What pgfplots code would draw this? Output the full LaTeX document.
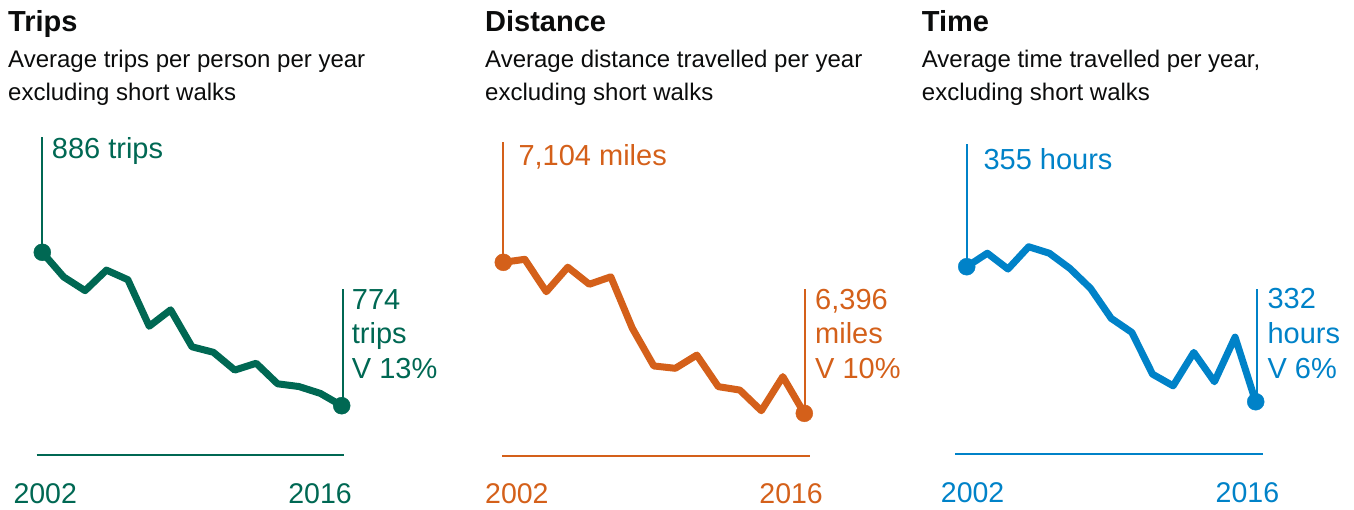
\documentclass[border=0pt]{standalone}
\usepackage{fontspec}
\setmainfont{Liberation Sans}
\usepackage{pgfplots}
\pgfplotsset{compat=1.18}
\definecolor{cgreen}{HTML}{006853}
\definecolor{corange}{HTML}{D4601A}
\definecolor{cblue}{HTML}{0082C8}
\definecolor{ctext}{HTML}{0B0C0C}
\newcommand{\bigf}{\fontsize{29}{34}\selectfont}
\newcommand{\yearf}{\fontsize{28.5}{34}\selectfont}
\newcommand{\subf}{\fontsize{24}{33}\selectfont}
\pgfplotsset{
  panel/.style={scale only axis, axis lines=none, xtick=\empty, ytick=\empty,
    clip=false, xmin=2002, xmax=2016, anchor=south west},
  serie/.style={line width=7pt, line join=round, line cap=round, mark=none},
  ends/.style={only marks, mark=*, mark size=8.5pt},
}
\begin{document}
\begin{tikzpicture}
\useasboundingbox (0,0) rectangle (1354pt,-509pt);
\tikzset{lbl/.style={anchor=base west, inner sep=0pt}}
% ---------------- Titles ----------------
\node[lbl, text=ctext, font=\bigf\bfseries] at (8pt,-31pt) {Trips};
\node[lbl, text=ctext, font=\subf] at (8pt,-67.5pt) {Average trips per person per year};
\node[lbl, text=ctext, font=\subf] at (8pt,-100pt) {excluding short walks};
\node[lbl, text=ctext, font=\bigf\bfseries] at (485pt,-31pt) {Distance};
\node[lbl, text=ctext, font=\subf] at (485pt,-67.5pt) {Average distance travelled per year};
\node[lbl, text=ctext, font=\subf] at (485pt,-100pt) {excluding short walks};
\node[lbl, text=ctext, font=\bigf\bfseries] at (921.7pt,-31pt) {Time};
\node[lbl, text=ctext, font=\subf] at (921.7pt,-67.5pt) {Average time travelled per year,};
\node[lbl, text=ctext, font=\subf] at (921.7pt,-100pt) {excluding short walks};

% ---------------- Trips ----------------
\begin{axis}[panel, at={(42.3pt,-405.7pt)}, width=299.4pt, height=153.4pt, ymin=774, ymax=886]
\addplot[serie, cgreen] coordinates {
(2002,886) (2003,868) (2004,858) (2005,873) (2006,866) (2007,832) (2008,844)
(2009,817) (2010,813) (2011,800) (2012,805) (2013,790) (2014,788) (2015,783) (2016,774)};
\addplot[ends, cgreen] coordinates {(2002,886) (2016,774)};
\draw[cgreen, line width=2pt] (axis cs:2002,886) -- ++(0pt,115.3pt);
\draw[cgreen, line width=2pt] (axis cs:2016,774) ++(1pt,0pt) -- ++(0pt,116.4pt);
\end{axis}
\draw[cgreen, line width=2.2pt] (36.7pt,-455pt) -- (344pt,-455pt);
\node[lbl, text=cgreen, font=\bigf] at (51.7pt,-158pt) {886 trips};
\node[lbl, text=cgreen, font=\bigf] at (351.7pt,-309pt) {774};
\node[lbl, text=cgreen, font=\bigf] at (351.7pt,-343pt) {trips};
\node[lbl, text=cgreen, font=\bigf] at (351.7pt,-378pt) {V 13\%};
\node[lbl, text=cgreen, font=\yearf] at (13.3pt,-503pt) {2002};
\node[anchor=base east, inner sep=0pt, text=cgreen, font=\yearf] at (352pt,-503pt) {2016};

% ---------------- Distance ----------------
\begin{axis}[panel, at={(503.3pt,-413.3pt)}, width=301pt, height=151pt, ymin=6396, ymax=7104]
\addplot[serie, corange] coordinates {
(2002,7104) (2003,7118) (2004,6966) (2005,7081) (2006,7001) (2007,7036) (2008,6795)
(2009,6618) (2010,6607) (2011,6669) (2012,6521) (2013,6505) (2014,6408) (2015,6568) (2016,6396)};
\addplot[ends, corange] coordinates {(2002,7104) (2016,6396)};
\draw[corange, line width=2pt] (axis cs:2002,7104) -- ++(0pt,120.6pt);
\draw[corange, line width=2pt] (axis cs:2016,6396) ++(0.7pt,0pt) -- ++(0pt,124pt);
\end{axis}
\draw[corange, line width=2.2pt] (502.3pt,-456pt) -- (810pt,-456pt);
\node[lbl, text=corange, font=\bigf] at (518.3pt,-165.7pt) {7,104 miles};
\node[lbl, text=corange, font=\bigf] at (815pt,-309pt) {6,396};
\node[lbl, text=corange, font=\bigf] at (815pt,-343pt) {miles};
\node[lbl, text=corange, font=\bigf] at (815pt,-378pt) {V 10\%};
\node[lbl, text=corange, font=\yearf] at (485pt,-503pt) {2002};
\node[anchor=base east, inner sep=0pt, text=corange, font=\yearf] at (823pt,-503pt) {2016};

% ---------------- Time ----------------
\begin{axis}[panel, at={(966.7pt,-401.7pt)}, width=289pt, height=135pt, ymin=332, ymax=355]
\addplot[serie, cblue] coordinates {
(2002,355) (2003,357.3) (2004,354.6) (2005,358.4) (2006,357.3) (2007,354.7) (2008,351.3)
(2009,346.2) (2010,343.8) (2011,336.7) (2012,334.7) (2013,340.4) (2014,335.4) (2015,343) (2016,332)};
\addplot[ends, cblue] coordinates {(2002,355) (2016,332)};
\draw[cblue, line width=2pt] (axis cs:2002,355) -- ++(0pt,122.7pt);
\draw[cblue, line width=2pt] (axis cs:2016,332) ++(1pt,0pt) -- ++(0pt,112.4pt);
\end{axis}
\draw[cblue, line width=2.2pt] (955pt,-454.3pt) -- (1262.7pt,-454.3pt);
\node[lbl, text=cblue, font=\bigf] at (983.3pt,-169pt) {355 hours};
\node[lbl, text=cblue, font=\bigf] at (1267.3pt,-308.3pt) {332};
\node[lbl, text=cblue, font=\bigf] at (1267.3pt,-343pt) {hours};
\node[lbl, text=cblue, font=\bigf] at (1267.3pt,-378pt) {V 6\%};
\node[lbl, text=cblue, font=\yearf] at (940.7pt,-502.5pt) {2002};
\node[anchor=base east, inner sep=0pt, text=cblue, font=\yearf] at (1279.3pt,-502.5pt) {2016};
\end{tikzpicture}
\end{document}
